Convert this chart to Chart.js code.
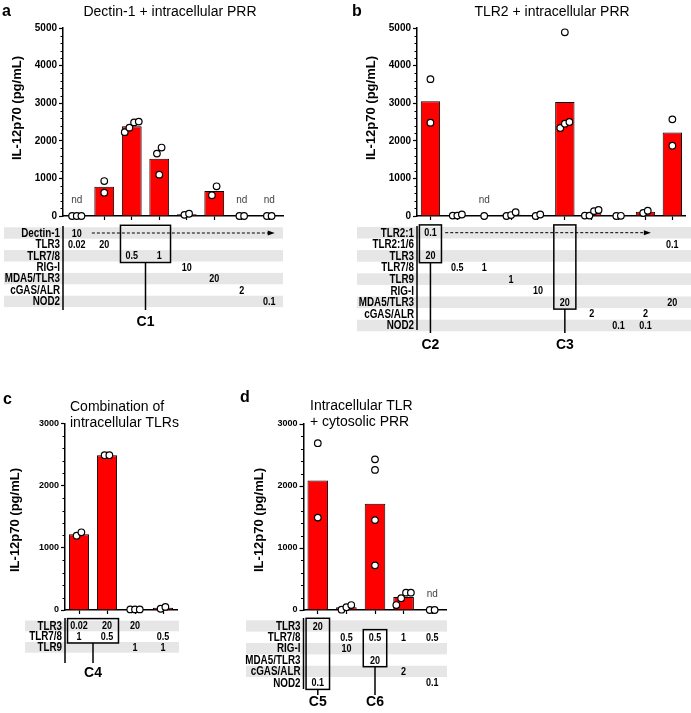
<!DOCTYPE html>
<html>
  <head>
    <title>IL-12p70 with PRR ligand combinations</title>
    <style>
      body { margin: 0; background: #fff; }
      canvas { position: absolute; }
    </style>
  </head>
  <body>

    <canvas id="chartA" width="345" height="335" style="left:0;top:0"></canvas>
    <canvas id="chartB" width="346" height="360" style="left:345px;top:0"></canvas>
    <canvas id="chartC" width="200" height="338" style="left:0;top:375px"></canvas>
    <canvas id="chartD" width="250" height="338" style="left:220px;top:375px"></canvas>

    <script src="https://cdn.jsdelivr.net/npm/chart.js@4.4.1/dist/chart.umd.min.js"></script>

    <script>

      // ---------- panel a : Dectin-1 + intracellular PRR ----------
      const aCategories = ['TLR3 0.02', 'TLR3 20', 'TLR7/8 0.5', 'TLR7/8 1', 'RIG-I', 'MDA5/TLR3', 'cGAS/ALR', 'NOD2'];
      const aMeans = [0, 780, 2390, 1520, 45, 665, 0, 0];
      const aPoints = [[0, 0, 0], [930, 620], [2490, 2510, 2350, 2230], [1820, 1660, 1100], [30, 60], [550, 790], [0, 0], [0, 0]];
      const aNotes = ['nd', '', '', '', '', '', 'nd', 'nd'];
      const aRows = ['Dectin-1', 'TLR3', 'TLR7/8', 'RIG-I', 'MDA5/TLR3', 'cGAS/ALR', 'NOD2'];
      const aDoses = [
        ['10', '', '', '', '', '', '', ''],
        ['0.02', '20', '', '', '', '', '', ''],
        ['', '', '0.5', '1', '', '', '', ''],
        ['', '', '', '', '10', '', '', ''],
        ['', '', '', '', '', '20', '', ''],
        ['', '', '', '', '', '', '2', ''],
        ['', '', '', '', '', '', '', '0.1']
      ];
      const aArrow = [0, 0, 7];  // row, from column, to column
      const aBoxes = [{ name: 'C1', cols: [2, 3], rows: [0, 2] }];

      // ---------- panel b : TLR2 + intracellular PRR ----------
      const bCategories = ['TLR3', 'TLR7/8 0.5', 'TLR7/8 1', 'TLR9', 'RIG-I', 'MDA5/TLR3', 'cGAS/ALR', 'NOD2', 'cGAS/ALR+NOD2', 'TLR2:1/6+MDA5/TLR3'];
      const bMeans = [3050, 20, 0, 40, 20, 3030, 75, 5, 110, 2220];
      const bPoints = [[3640, 2480], [40, 10, 10], [0], [100, 0, 25], [0, 40], [4885, 2500, 2340, 2455], [130, 10, 10, 160], [0, 5], [80, 140], [2570, 1870]];
      const bNotes = ['', '', 'nd', '', '', '', '', '', '', ''];
      const bRows = ['TLR2:1', 'TLR2:1/6', 'TLR3', 'TLR7/8', 'TLR9', 'RIG-I', 'MDA5/TLR3', 'cGAS/ALR', 'NOD2'];
      const bDoses = [
        ['0.1', '', '', '', '', '', '', '', '', ''],
        ['', '', '', '', '', '', '', '', '', '0.1'],
        ['20', '', '', '', '', '', '', '', '', ''],
        ['', '0.5', '1', '', '', '', '', '', '', ''],
        ['', '', '', '1', '', '', '', '', '', ''],
        ['', '', '', '', '10', '', '', '', '', ''],
        ['', '', '', '', '', '20', '', '', '', '20'],
        ['', '', '', '', '', '', '2', '', '2', ''],
        ['', '', '', '', '', '', '', '0.1', '0.1', '']
      ];
      const bArrow = [0, 0, 8];
      const bBoxes = [{ name: 'C2', cols: [0, 0], rows: [0, 2] }, { name: 'C3', cols: [5, 5], rows: [0, 6] }];

      // ---------- panel c : combination of intracellular TLRs ----------
      const cCategories = ['TLR3 0.02 + TLR7/8 1', 'TLR3 20 + TLR7/8 0.5', 'TLR3 + TLR9', 'TLR7/8 + TLR9'];
      const cMeans = [1220, 2490, 10, 35];
      const cPoints = [[1195, 1250], [2490, 2490], [10, 10, 10], [20, 50]];
      const cNotes = ['', '', '', ''];
      const cRows = ['TLR3', 'TLR7/8', 'TLR9'];
      const cDoses = [
        ['0.02', '20', '20', ''],
        ['1', '0.5', '', '0.5'],
        ['', '', '1', '1']
      ];
      const cBoxes = [{ name: 'C4', cols: [0, 1], rows: [0, 1] }];

      // ---------- panel d : intracellular TLR + cytosolic PRR ----------
      const dCategories = ['TLR3 + NOD2', 'TLR7/8 + RIG-I', 'TLR7/8 + MDA5/TLR3', 'TLR7/8 + cGAS/ALR', 'TLR7/8 + NOD2'];
      const dMeans = [2090, 43, 1715, 208, 0];
      const dPoints = [[2690, 1490], [80, 5, 45], [2430, 2260, 1450, 720], [280, 80, 190, 280], [0, 0]];
      const dNotes = ['', '', '', '', 'nd'];
      const dRows = ['TLR3', 'TLR7/8', 'RIG-I', 'MDA5/TLR3', 'cGAS/ALR', 'NOD2'];
      const dDoses = [
        ['20', '', '', '', ''],
        ['', '0.5', '0.5', '1', '0.5'],
        ['', '10', '', '', ''],
        ['', '', '20', '', ''],
        ['', '', '', '2', ''],
        ['0.1', '', '', '', '0.1']
      ];
      const dBoxes = [{ name: 'C5', cols: [0, 0], rows: [0, 5] }, { name: 'C6', cols: [2, 2], rows: [1, 3] }];

      const yTitle = 'IL-12p70 (pg/mL)';

      // ---------- layout of each panel (pixels inside its canvas) ----------
      const layoutA = { W: 345, H: 335, left: 63, right: 283, top: 28, bottom: 216, tickSize: 10,
        letter: ['a', 2, 12], titleX: 170, titleY: 12, titleAlign: 'center', yTitleX: 17, yTitleY: 108,
        rowTop: 227.3, rowH: 11.4, shade: [4, 283], lineTop: 226, lineBottom: 310, connectorEnd: 310, cLabelY: 322 };
      const layoutB = { W: 346, H: 360, left: 72, right: 342, top: 28, bottom: 216, tickSize: 10,
        letter: ['b', 7, 12], titleX: 207, titleY: 12, titleAlign: 'center', yTitleX: 26, yTitleY: 108,
        rowTop: 226.9, rowH: 11.6, shade: [12, 346], lineTop: 226, lineBottom: 330, connectorEnd: 333, cLabelY: 345 };
      const layoutC = { W: 200, H: 338, left: 65, right: 177, top: 48.5, bottom: 235, tickSize: 9,
        letter: ['c', 3, 25], titleX: 70, titleY: 32, titleAlign: 'left', yTitleX: 15, yTitleY: 145,
        rowTop: 245.6, rowH: 10.7, shade: [25, 179], lineTop: 243, lineBottom: 288, connectorEnd: 288, cLabelY: 298 };
      const layoutD = { W: 250, H: 338, left: 83.5, right: 226.5, top: 49, bottom: 235, tickSize: 9,
        letter: ['d', 20, 23], titleX: 90, titleY: 31, titleAlign: 'left', yTitleX: 39, yTitleY: 145,
        rowTop: 245.3, rowH: 11.35, shade: [26, 227], lineTop: 243, lineBottom: 314, connectorEnd: 320, cLabelY: 327 };

      const SANS = '"Liberation Sans", Arial, sans-serif';
      Chart.defaults.font.family = SANS;

      // spread overlapping replicate dots sideways (GraphPad-style scatter)
      function jitter(groups, yMax) {
        const pts = [];
        const gap = yMax * 0.05;
        groups.forEach((vals, i) => {
          const sorted = vals.slice().sort((p, q) => p - q);
          let cluster = [];
          const flush = () => {
            cluster.forEach((v, j) => pts.push({ x: i + (j - (cluster.length - 1) / 2) * 0.17, y: v }));
            cluster = [];
          };
          sorted.forEach(v => {
            if (cluster.length && v - cluster[cluster.length - 1] > gap) flush();
            cluster.push(v);
          });
          flush();
        });
        return pts;
      }

      // condensed bold text (Arial Narrow look) by squeezing the glyphs
      function narrowText(ctx, text, x, y, size) {
        ctx.save();
        ctx.translate(x, y);
        ctx.scale(0.82, 1);
        ctx.font = 'bold ' + size + 'px ' + SANS;
        ctx.fillText(text, 0, 0);
        ctx.restore();
      }

      // draws titles, minor ticks, "nd" marks and the condition table under the bars
      function panelDecor(spec, lay) {
        return {
          id: 'panelDecor',
          afterDraw(chart) {
            const ctx = chart.ctx;
            const xs = chart.scales.x, ys = chart.scales.y;
            const area = chart.chartArea;
            const colX = i => xs.getPixelForValue(i);
            const colW = colX(1) - colX(0);
            const rowTop = r => lay.rowTop + r * lay.rowH;
            const rowMid = r => rowTop(r) + lay.rowH / 2;
            const line = (x0, y0, x1, y1) => { ctx.beginPath(); ctx.moveTo(x0, y0); ctx.lineTo(x1, y1); ctx.stroke(); };

            ctx.save();
            ctx.fillStyle = '#000';
            ctx.strokeStyle = '#000';
            ctx.textBaseline = 'middle';

            // letter and title
            ctx.font = 'bold 16px ' + SANS;
            ctx.textAlign = 'left';
            ctx.fillText(lay.letter[0], lay.letter[1], lay.letter[2]);
            ctx.font = '14px ' + SANS;
            ctx.textAlign = lay.titleAlign;
            spec.title.forEach((t, i) => ctx.fillText(t, lay.titleX, lay.titleY + i * 16));

            // y axis title
            ctx.save();
            ctx.translate(lay.yTitleX, lay.yTitleY);
            ctx.rotate(-Math.PI / 2);
            ctx.font = 'bold 13px ' + SANS;
            ctx.textAlign = 'center';
            ctx.fillText(yTitle, 0, 0);
            ctx.restore();

            // minor ticks every 200
            ctx.lineWidth = 1;
            for (let v = 200; v < ys.max; v += 200) {
              if (v % 1000 === 0) continue;
              const py = Math.round(ys.getPixelForValue(v)) + 0.5;
              line(area.left - 2.5, py, area.left, py);
            }

            // not detected
            ctx.font = '10px ' + SANS;
            ctx.fillStyle = '#444';
            ctx.textAlign = 'center';
            spec.notes.forEach((t, i) => { if (t) ctx.fillText(t, colX(i), area.bottom - 16); });

            // table shading
            ctx.fillStyle = '#e6e6e6';
            spec.rows.forEach((_, r) => {
              if (r % 2 === 0) ctx.fillRect(lay.shade[0], rowTop(r), lay.shade[1] - lay.shade[0], lay.rowH);
            });

            // row names and doses
            ctx.fillStyle = '#000';
            ctx.textAlign = 'right';
            spec.rows.forEach((name, r) => narrowText(ctx, name, area.left - 3, rowMid(r) + 0.5, 12));
            ctx.textAlign = 'center';
            spec.doses.forEach((row, r) => row.forEach((d, i) => {
              if (d) narrowText(ctx, d, colX(i), rowMid(r) + 0.5, 11);
            }));

            ctx.lineWidth = 1.5;
            line(area.left, lay.lineTop, area.left, lay.lineBottom);

            // dashed arrow: ligand present in every column
            if (spec.arrow) {
              const [ar, c0, c1] = spec.arrow;
              const ax0 = colX(c0) + colW * 0.55, ax1 = colX(c1) + colW * 0.2, ay = rowMid(ar);
              ctx.lineWidth = 1;
              ctx.setLineDash([3, 2]);
              line(ax0, ay, ax1 - 6, ay);
              ctx.setLineDash([]);
              ctx.beginPath();
              ctx.moveTo(ax1, ay);
              ctx.lineTo(ax1 - 7, ay - 2.5);
              ctx.lineTo(ax1 - 7, ay + 2.5);
              ctx.closePath();
              ctx.fill();
            }

            // highlighted combinations
            spec.boxes.forEach(b => {
              const bx0 = colX(b.cols[0]) - colW * 0.41, bx1 = colX(b.cols[1]) + colW * 0.41;
              const by0 = rowTop(b.rows[0]) - 2, by1 = rowTop(b.rows[1]) + lay.rowH + 1;
              ctx.lineWidth = 1.5;
              ctx.strokeRect(bx0, by0, bx1 - bx0, by1 - by0);
              const cx = (bx0 + bx1) / 2;
              line(cx, by1, cx, lay.connectorEnd);
              ctx.font = 'bold 14px ' + SANS;
              ctx.textAlign = 'center';
              ctx.fillText(b.name, cx, lay.cLabelY);
            });

            ctx.restore();
          }
        };
      }

      function makeChart(id, spec, lay) {
        const n = spec.categories.length;
        return new Chart(document.getElementById(id), {
          type: 'bar',
          data: {
            labels: spec.categories,
            datasets: [
              {
                type: 'scatter', data: jitter(spec.points, spec.yMax), xAxisID: 'xj', yAxisID: 'y', order: 0, clip: false,
                pointRadius: 3.3, pointBackgroundColor: '#fff', pointBorderColor: '#000', pointBorderWidth: 1.2
              },
              {
                type: 'bar', data: spec.means, xAxisID: 'x', yAxisID: 'y', order: 1, grouped: false,
                backgroundColor: '#ff0000', borderColor: '#000', borderWidth: 1,
                barPercentage: 0.72, categoryPercentage: 1
              }
            ]
          },
          options: {
            responsive: false,
            animation: false,
            events: [],
            layout: { padding: { left: 0, top: lay.top, right: lay.W - lay.right, bottom: 0 } },
            plugins: { legend: { display: false }, tooltip: { enabled: false } },
            scales: {
              x: {
                type: 'category', offset: true,
                grid: { offset: false, drawOnChartArea: false, tickLength: 4, tickColor: '#000', tickWidth: 1.2 },
                border: { color: '#000', width: 1.5 },
                ticks: { display: false },
                afterFit: s => { s.height = lay.H - lay.bottom; }
              },
              xj: { type: 'linear', display: false, offset: false, min: -0.5, max: n - 0.5 },
              y: {
                min: 0, max: spec.yMax,
                ticks: { stepSize: 1000, color: '#000', font: { weight: 'bold', size: lay.tickSize }, padding: 2,
                  callback: v => String(v) },
                grid: { drawOnChartArea: false, tickLength: 4, tickColor: '#000', tickWidth: 1.2 },
                border: { color: '#000', width: 1.5 },
                afterFit: s => { s.width = lay.left; }
              }
            }
          },
          plugins: [panelDecor(spec, lay)]
        });
      }

      makeChart('chartA', { title: ['Dectin-1 + intracellular PRR'], yMax: 5000, categories: aCategories, means: aMeans,
        points: aPoints, notes: aNotes, rows: aRows, doses: aDoses, arrow: aArrow, boxes: aBoxes }, layoutA);
      makeChart('chartB', { title: ['TLR2 + intracellular PRR'], yMax: 5000, categories: bCategories, means: bMeans,
        points: bPoints, notes: bNotes, rows: bRows, doses: bDoses, arrow: bArrow, boxes: bBoxes }, layoutB);
      makeChart('chartC', { title: ['Combination of', 'intracellular TLRs'], yMax: 3000, categories: cCategories, means: cMeans,
        points: cPoints, notes: cNotes, rows: cRows, doses: cDoses, arrow: null, boxes: cBoxes }, layoutC);
      makeChart('chartD', { title: ['Intracellular TLR', '+ cytosolic PRR'], yMax: 3000, categories: dCategories, means: dMeans,
        points: dPoints, notes: dNotes, rows: dRows, doses: dDoses, arrow: null, boxes: dBoxes }, layoutD);

    </script>
  </body>
</html>
